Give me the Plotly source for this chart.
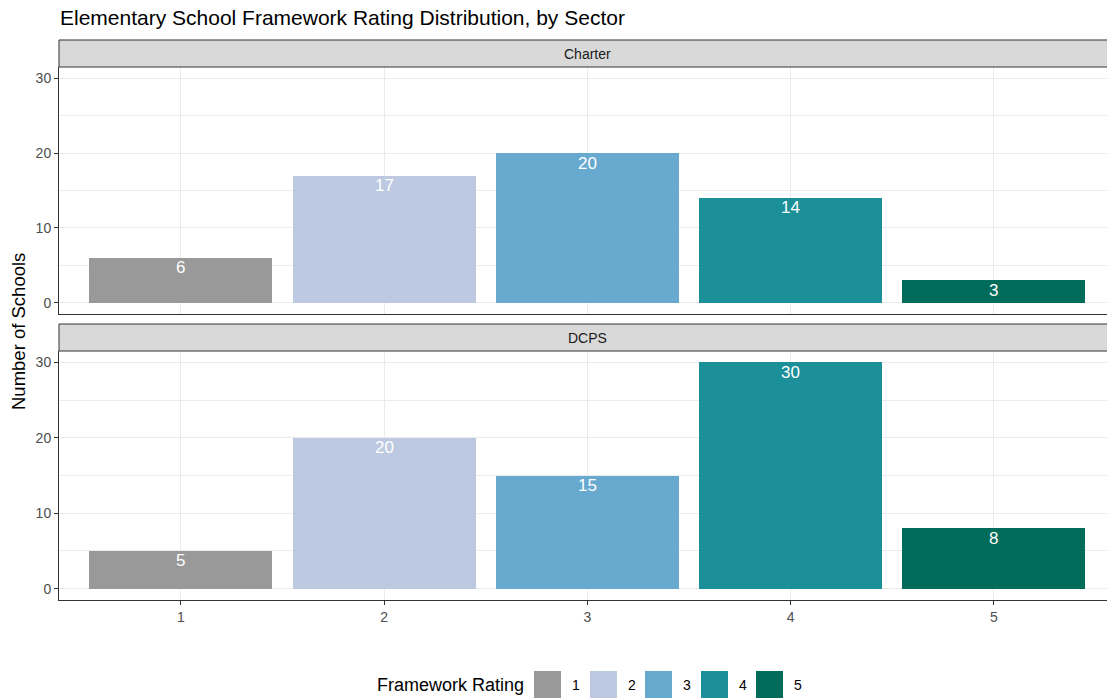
import plotly.graph_objects as go

ratings = [1, 2, 3, 4, 5]
rating_labels = ["1", "2", "3", "4", "5"]
charter = [6, 17, 20, 14, 3]
dcps = [5, 20, 15, 30, 8]
sectors = ["Charter", "DCPS"]
colors = ["#999999", "#BDC9E1", "#67A9CF", "#1C9099", "#016C59"]

FONT = "Liberation Sans, Arial, sans-serif"
W, H = 1107, 700
L, R, T, B = 59, 0, 40, 100
PW, PH = W - L - R, H - T - B


def px(x):
    return (x - L) / PW


def py(y):
    return (H - B - y) / PH


fig = go.Figure()

panels = [("x", "y", charter), ("x2", "y2", dcps)]
annotations = []
for xa, ya, vals in panels:
    fig.add_trace(go.Bar(
        x=ratings, y=vals, marker=dict(color=colors, line=dict(width=0)),
        width=0.9, xaxis=xa, yaxis=ya, showlegend=False, hoverinfo="x+y"))
    for r, v in zip(ratings, vals):
        annotations.append(dict(
            x=r, y=v, xref=xa, yref=ya, text=str(v), showarrow=False,
            yanchor="middle", yshift=-10,
            font=dict(family=FONT, size=17, color="white")))

# panel domains (pixel rows)
top_dom = [py(314), py(67)]
bot_dom = [py(600), py(351)]
strips = [(40, 67, sectors[0]), (324, 351, sectors[1])]

xrange_ = [0.4, 0.4 + PW / 203.25]
yrange_ = [-1.5, 31.5]

TICKFONT = dict(family=FONT, size=14, color="#4D4D4D")

common_x = dict(range=xrange_, tickvals=ratings, ticktext=rating_labels,
                showgrid=True, gridcolor="#EBEBEB", gridwidth=1.1,
                zeroline=False, showline=True, linecolor="#333333", linewidth=1,
                domain=[0, 1])
common_y = dict(range=yrange_, tickvals=[0, 10, 20, 30], showgrid=True,
                gridcolor="#EBEBEB", gridwidth=1.1, zeroline=False,
                showline=True, linecolor="#333333", linewidth=1,
                ticks="outside", ticklen=4, tickcolor="#333333", tickwidth=1,
                tickfont=TICKFONT,
                minor=dict(tickvals=[5, 15, 25], showgrid=True,
                           gridcolor="#EBEBEB", gridwidth=0.6, ticks=""))

fig.update_layout(
    xaxis=dict(**common_x, anchor="y", showticklabels=False, ticks=""),
    yaxis=dict(**common_y, domain=top_dom, anchor="x"),
    xaxis2=dict(**common_x, anchor="y2", matches="x", ticks="outside",
                ticklen=4, tickcolor="#333333", tickwidth=1,
                tickfont=TICKFONT),
    yaxis2=dict(**common_y, domain=bot_dom, anchor="x2"),
)

shapes = []
for y0, y1, lab in strips:
    shapes.append(dict(type="rect", xref="paper", yref="paper",
                       x0=0, x1=1.01, y0=py(y1), y1=py(y0),
                       fillcolor="#D9D9D9", line=dict(color="#333333", width=1),
                       layer="above"))
    annotations.append(dict(x=px((L + 1116) / 2), y=py((y0 + y1) / 2),
                            xref="paper", yref="paper", text=lab,
                            showarrow=False, xanchor="center", yanchor="middle",
                            font=dict(family=FONT, size=14, color="#1A1A1A")))

# y axis title
annotations.append(dict(x=px(19), y=py(332), xref="paper", yref="paper",
                        text="Number of Schools", textangle=-90, showarrow=False,
                        xanchor="center", yanchor="middle",
                        font=dict(family=FONT, size=18.5, color="black")))

# legend (custom)
annotations.append(dict(x=px(375), y=py(685), xref="paper", yref="paper",
                        text="Framework Rating", showarrow=False,
                        xanchor="left", yanchor="middle",
                        font=dict(family=FONT, size=18, color="black")))
sw_x = [534, 590, 645, 701, 756]
for i, (lab, c) in enumerate(zip(rating_labels, colors)):
    x0 = sw_x[i]
    shapes.append(dict(type="rect", xref="paper", yref="paper",
                       x0=px(x0), x1=px(x0 + 27), y0=py(698), y1=py(671),
                       fillcolor=c, line=dict(width=0)))
    annotations.append(dict(x=px(x0 + 42), y=py(685), xref="paper", yref="paper",
                            text=lab, showarrow=False, xanchor="center",
                            yanchor="middle",
                            font=dict(family=FONT, size=14, color="black")))

fig.update_layout(
    width=W, height=H,
    margin=dict(l=L, r=R, t=T, b=B, pad=0),
    paper_bgcolor="white", plot_bgcolor="white",
    title=dict(text="Elementary School Framework Rating Distribution, by Sector",
               x=px(60), xref="paper", xanchor="left", y=1 - 18 / H,
               yref="container", yanchor="middle",
               font=dict(family=FONT, size=21, color="black")),
    shapes=shapes, annotations=annotations, showlegend=False,
    bargap=0,
)

fig.write_html("out.html", config={"displayModeBar": False},
               post_script="document.body.style.margin='0';"
                           "document.body.style.overflow='hidden';")
